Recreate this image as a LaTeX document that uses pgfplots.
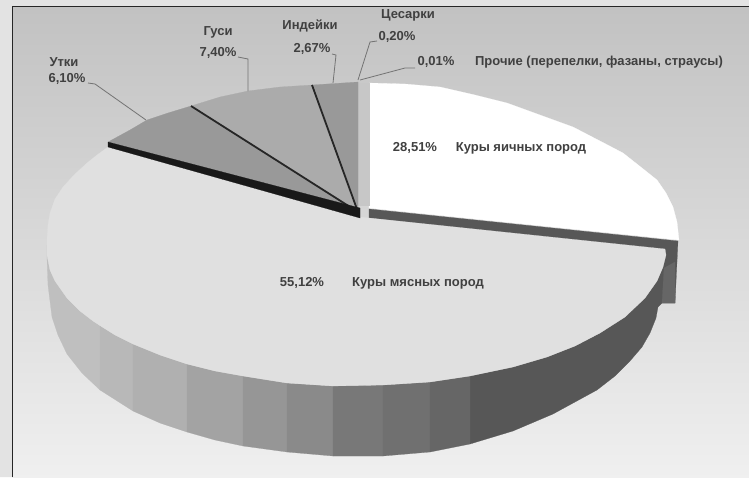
\documentclass[border=0pt]{standalone}
\usepackage{pgfplots}
\pgfplotsset{compat=1.18}
\usepackage{fontspec}
\setmainfont{Liberation Sans}
\newcommand{\poly}[2]{\addplot[fill=#1,draw=#1,line width=0.2pt,forget plot] coordinates {#2};}
\begin{document}
\begin{tikzpicture}
\begin{axis}[scale only axis,width=749pt,height=477pt,xmin=0,xmax=749,ymin=0,ymax=477,y dir=reverse,
  axis lines=none,clip=true]
% frame and background
\addplot[fill=black!11,draw=none,forget plot] coordinates {(0,0)(749,0)(749,477)(0,477)(0,0)};
\addplot[draw=none,shade,top color=black!24,bottom color=black!17,forget plot] coordinates {(12,6)(749,6)(749,190)(12,190)(12,6)};
\addplot[draw=none,shade,top color=black!17,bottom color=black!6,forget plot] coordinates {(12,189)(749,189)(749,477)(12,477)(12,189)};
\addplot[black!85,line width=1pt,forget plot] coordinates {(12,477)(12,6)(749,6)};
% side, dark base
\poly{black!66}{(369,209)(678,241)(675,303)(662,303)(658,307)(656,318)(650,333)(642,347)(630,361)(615,376)(597,390)(553,414)(513,431)(470,444)(470,376)(513,367)(547,357)(575,346)(600,333)(625,317)(645,298)(657,281)(663,267)(665,250)(369,218)(369,209)}
\poly{black!60}{(664,268)(675,262)(675,303)(662,303)(664,268)}
% side bands
\poly{black!25}{(47,245)(50,270)(55,281)(67,298)(80,311)(93,321)(100,326)(100,390)(82,373)(67,354)(58,335)(52,317)(48,285)(47,258)(47,245)}
\poly{black!28}{(100,326)(115,335)(133,344)(133,411)(100,390)(100,326)}
\poly{black!31}{(133,344)(160,355)(187,364)(187,432)(160,423)(133,411)(133,344)}
\poly{black!36}{(187,364)(215,371)(243,376)(243,446)(215,440)(187,432)(187,364)}
\poly{black!41}{(243,376)(287,383)(287,452)(243,446)(243,376)}
\poly{black!46}{(287,383)(333,386)(333,456)(287,452)(287,383)}
\poly{black!53}{(333,386)(383,385)(383,456)(333,456)(333,386)}
\poly{black!56}{(383,385)(430,382)(430,452)(383,456)(383,385)}
\poly{black!60}{(430,382)(470,376)(470,444)(430,452)(430,382)}
% main slice
\poly{black!12}{(360,217)(369,218)(665,249)(666,255)(663,267)(657,281)(645,298)(625,317)(600,333)(575,346)(547,357)(513,367)(470,376)(430,382)(383,385)(333,386)(287,383)(243,376)(215,371)(187,364)(160,355)(133,344)(115,335)(93,321)(80,311)(67,298)(55,281)(50,270)(47,255)(47,240)(48,225)(50,213)(55,199)(63,187)(74,175)(87,163)(97,155)(108,147)(360,217)}
% white slice
\poly{white}{(369,208)(369,83)(405,84)(440,87)(475,95)(507,103)(540,115)(573,127)(600,141)(623,153)(642,168)(657,180)(666,193)(673,207)(677,222)(679,240)(369,208)}
% top slices
\poly{black!22}{(358,83)(369,83)(369,205)(358,205)(358,83)}
\poly{black!40}{(358,212)(358,82)(312,85)(358,212)}
\poly{black!33}{(358,212)(312,85)(280,87)(248,91)(220,97)(191,106)(358,212)}
\poly{black!40}{(358,212)(191,106)(168,113)(147,120)(130,130)(108,142)(358,212)}
\addplot[black!85,line width=1.8pt,forget plot] coordinates {(312,85)(358,212)};
\addplot[black!85,line width=1.8pt,forget plot] coordinates {(191,106)(358,212)};
\poly{black!90}{(108,142)(108,147)(360,218)(360,208)(108,142)}
% leaders
\addplot[black!55,line width=0.8pt,forget plot] coordinates {(88,83)(95,84)(146,120)};
\addplot[black!55,line width=0.8pt,forget plot] coordinates {(238,57)(248,59)(248,91)};
\addplot[black!55,line width=0.8pt,forget plot] coordinates {(332,54)(336,55)(333,83)};
\addplot[black!55,line width=0.8pt,forget plot] coordinates {(377,41)(370,42)(358,80)};
\addplot[black!55,line width=0.8pt,forget plot] coordinates {(415,68)(405,68)(360,80)};
% labels
\tikzset{lab/.style={font=\fontsize{13}{15}\selectfont\bfseries,text=black!75,inner sep=0pt,anchor=center}}
\node[lab] at (axis cs:64,62) {Утки};
\node[lab] at (axis cs:67,79) {6,10\%};
\node[lab] at (axis cs:218,32) {Гуси};
\node[lab] at (axis cs:218,53) {7,40\%};
\node[lab] at (axis cs:310,26) {Индейки};
\node[lab] at (axis cs:312,49) {2,67\%};
\node[lab] at (axis cs:408,15) {Цесарки};
\node[lab] at (axis cs:397,37) {0,20\%};
\node[lab] at (axis cs:436,62) {0,01\%};
\node[lab] at (axis cs:599,62) {Прочие (перепелки, фазаны, страусы)};
\node[lab] at (axis cs:415,148) {28,51\%};
\node[lab] at (axis cs:521,148) {Куры яичных пород};
\node[lab] at (axis cs:302,283) {55,12\%};
\node[lab] at (axis cs:418,283) {Куры мясных пород};
\end{axis}
\end{tikzpicture}
\end{document}
